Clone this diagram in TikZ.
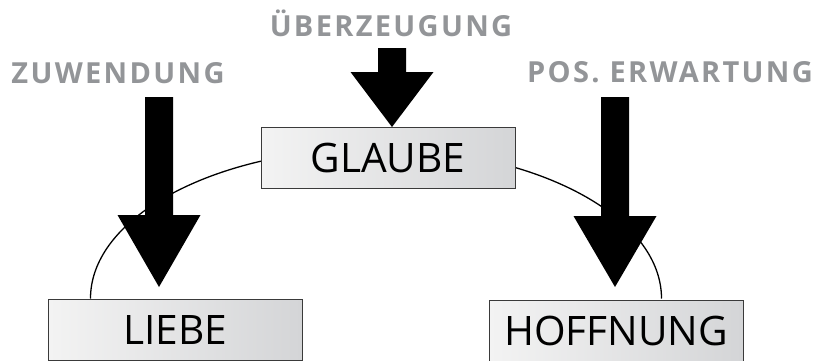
\documentclass[tikz,border=0pt]{standalone}
\usepackage{fontspec}
\setmainfont{Open Sans}
\newfontfamily\labfont[LetterSpace=8]{Open Sans}
\definecolor{labgray}{HTML}{939598}
\definecolor{boxleft}{HTML}{F3F3F3}
\definecolor{boxright}{HTML}{D4D5D7}
\definecolor{boxline}{HTML}{3A3A3A}
\pgfdeclarelayer{background}
\pgfsetlayers{background,main}
\tikzset{
  box/.style={draw=boxline, line width=1pt, left color=boxleft, right color=boxright,
    minimum width=254pt, minimum height=61pt, inner sep=0pt,
    text height=29pt, text depth=0pt,
    font=\fontsize{40.6}{42}\selectfont},
  lab/.style={text=labgray, inner sep=0pt, text height=19pt, text depth=0pt,
    font=\labfont\bfseries\fontsize{29}{30}\selectfont},
  bigarrow/.style={fill=black, draw=none},
  link/.style={draw=black, line width=1.3pt}
}
\newcommand{\fatarrow}[4]{% center x, top y, head base y, tip y
  \fill[bigarrow] (#1-14,#2) -- (#1+14,#2) -- (#1+14,#3) -- (#1+41.5,#3)
    -- (#1,#4) -- (#1-41.5,#3) -- (#1-14,#3) -- cycle;}
\begin{document}
\begin{tikzpicture}[x=1pt,y=1pt]
\useasboundingbox (0,0) rectangle (825,-360);
\clip (0,0) rectangle (825,-360);
% boxes
\node[box] (glaube) at (388,-157.5) {GLAUBE};
\node[box] (liebe) at (175,-329.5) {LIEBE};
\node[box] (hoffnung) at (616,-330.5) {HOFFNUNG};
% arc behind boxes
\begin{pgfonlayer}{background}
\draw[link] ([xshift=43pt]liebe.north west) arc[start angle=180, end angle=0, x radius=285.5, y radius=150];
\end{pgfonlayer}
% labels
\node[lab] (zuw) at (118,-74) {ZUWENDUNG};
\node[lab] (ueb) at (391,-26.5) {ÜBERZEUGUNG};
\node[lab] (pos) at (670,-73) {POS. ERWARTUNG};
% arrows
\fatarrow{159}{-97}{-215}{-287}
\fatarrow{392}{-48}{-72}{-127}
\fatarrow{615}{-97}{-216}{-287}
\end{tikzpicture}
\end{document}
